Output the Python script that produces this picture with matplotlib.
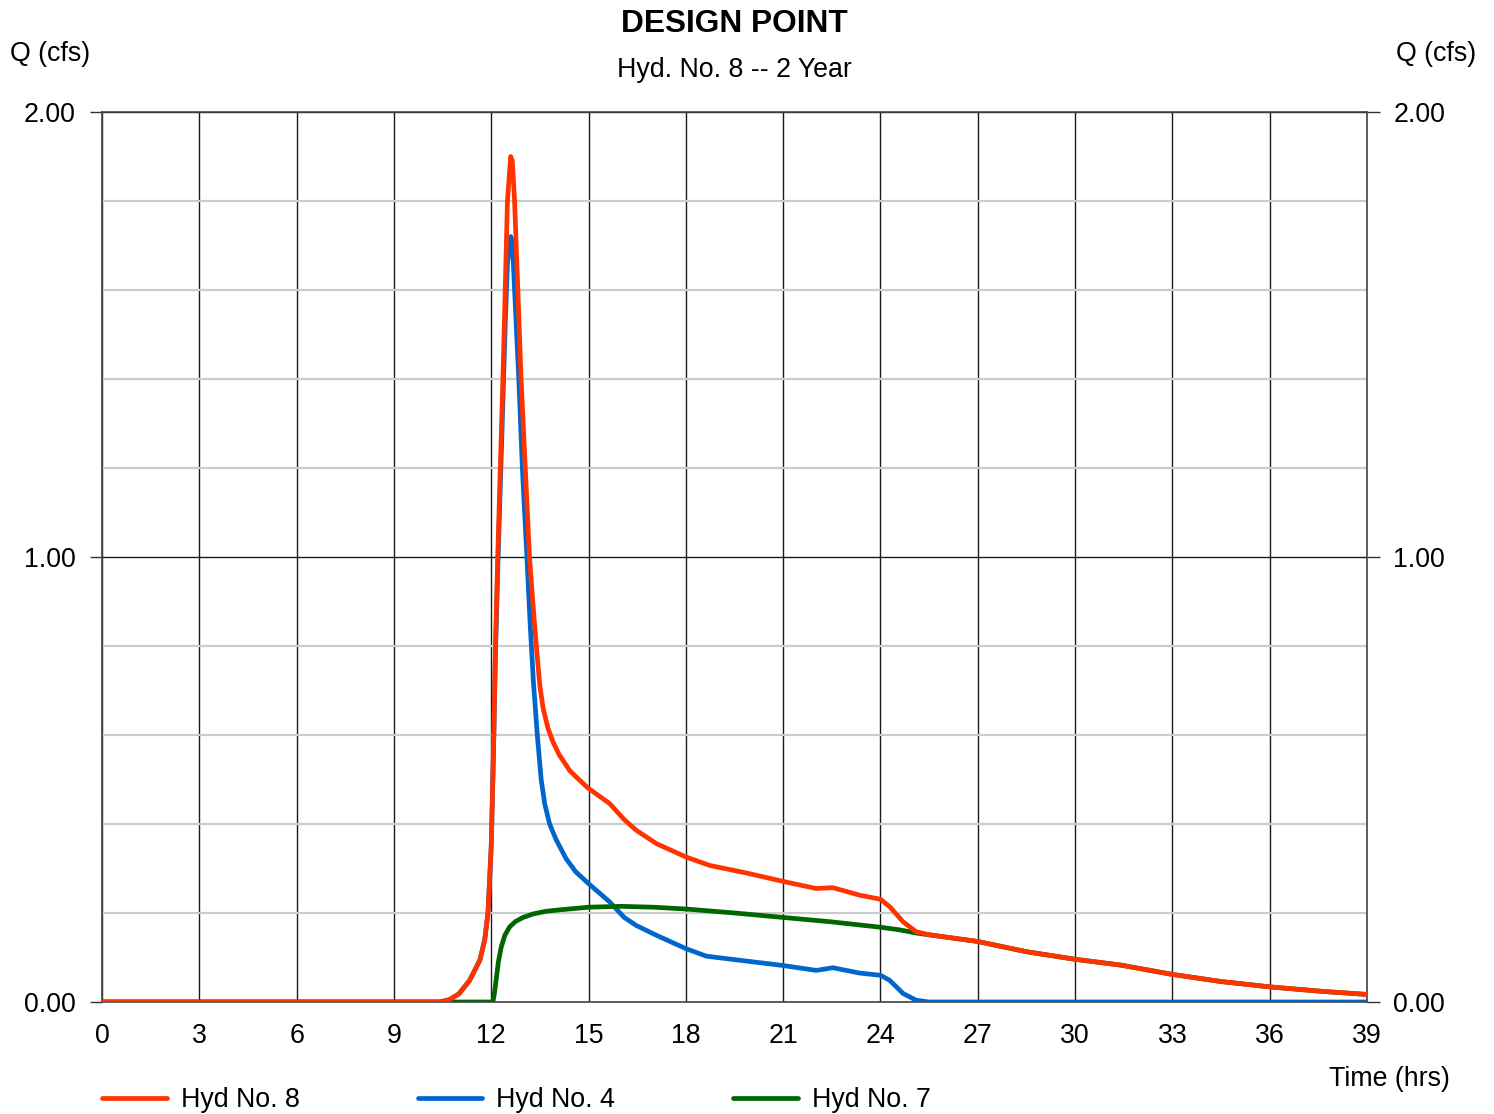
"""
Design point hydrograph: combined outflow (Hyd No. 8) with its two
contributing hydrographs (Hyd No. 4 and Hyd No. 7), 2 year storm.
"""

import matplotlib
matplotlib.use("Agg")
import matplotlib.pyplot as plt
from matplotlib.lines import Line2D

plt.rcParams["font.family"] = ["Liberation Sans", "DejaVu Sans"]

# ---------------- Hydrograph data (hrs, cfs) ----------------
t_hyd8 = [0, 10.4, 10.7, 11.0, 11.33, 11.65, 11.8, 11.9, 12.0, 12.07, 12.13, 12.2,
          12.28, 12.36, 12.43, 12.5, 12.6, 12.65, 12.72, 12.82, 12.92, 13.05, 13.18,
          13.28, 13.39, 13.5, 13.6, 13.75, 13.9, 14.1, 14.42, 14.7, 15.0, 15.65,
          16.1, 16.47, 17.09, 18.0, 18.73, 19.86, 21.0, 22.02, 22.53, 23.36, 24.0,
          24.3, 24.7, 25.1, 25.5, 27.0, 28.5, 30.0, 31.4, 33.0, 34.5, 36.0, 37.6, 39.0]
q_hyd8 = [0, 0, 0.005, 0.018, 0.048, 0.094, 0.14, 0.2, 0.35, 0.57, 0.80, 1.0,
          1.2, 1.4, 1.6, 1.8, 1.90, 1.89, 1.8, 1.6, 1.4, 1.2, 1.0,
          0.9, 0.8, 0.71, 0.66, 0.615, 0.585, 0.555, 0.52, 0.5, 0.48, 0.446,
          0.41, 0.386, 0.356, 0.326, 0.307, 0.29, 0.271, 0.255, 0.257, 0.24, 0.231,
          0.213, 0.18, 0.158, 0.151, 0.136, 0.113, 0.096, 0.083, 0.062, 0.046, 0.034, 0.024, 0.017]

t_hyd4 = [0, 10.4, 10.7, 11.0, 11.33, 11.65, 11.8, 11.9, 12.0, 12.07, 12.13, 12.2,
          12.28, 12.36, 12.43, 12.5, 12.6, 12.65, 12.72, 12.85, 12.96, 13.1, 13.2,
          13.3, 13.42, 13.54, 13.65, 13.8, 14.0, 14.3, 14.6, 15.0, 15.65, 16.1,
          16.47, 17.09, 18.0, 18.63, 19.86, 21.0, 22.02, 22.53, 23.36, 24.0, 24.28,
          24.7, 25.1, 25.5, 39.0]
q_hyd4 = [0, 0, 0.005, 0.018, 0.048, 0.094, 0.14, 0.2, 0.35, 0.56, 0.78, 0.97,
          1.16, 1.35, 1.52, 1.66, 1.72, 1.71, 1.6, 1.4, 1.2, 1.0, 0.85,
          0.72, 0.6, 0.5, 0.445, 0.4, 0.365, 0.323, 0.293, 0.266, 0.225, 0.19,
          0.172, 0.15, 0.12, 0.103, 0.092, 0.082, 0.071, 0.077, 0.065, 0.06, 0.049,
          0.019, 0.004, 0.0, 0.0]

t_hyd7 = [0, 12.05, 12.1, 12.15, 12.22, 12.31, 12.42, 12.57, 12.75, 12.98, 13.3,
          13.7, 14.1, 15.0, 16.0, 17.0, 18.0, 19.5, 21.0, 22.5, 24.0, 24.6, 25.1,
          25.5, 27.0, 28.5, 30.0, 31.4, 33.0, 34.5, 36.0, 37.6, 39.0]
q_hyd7 = [0, 0, 0.02, 0.049, 0.09, 0.124, 0.15, 0.169, 0.181, 0.19, 0.198,
          0.204, 0.207, 0.213, 0.215, 0.213, 0.209, 0.2, 0.19, 0.18, 0.168, 0.162, 0.155,
          0.151, 0.136, 0.113, 0.096, 0.083, 0.062, 0.046, 0.034, 0.024, 0.017]

x_ticks = list(range(0, 40, 3))
y_ticks = [0.0, 1.0, 2.0]
y_minor = [0.2, 0.4, 0.6, 0.8, 1.2, 1.4, 1.6, 1.8]

RED, BLUE, GREEN = "#ff3300", "#0066cc", "#006600"
LW = 3.4
FS = 19.3

# ---------------- Figure ----------------
W, H = 1494, 1114
fig = plt.figure(figsize=(W / 100, H / 100), dpi=100)
ax = fig.add_axes([102 / W, 1 - 1002 / H, (1367 - 102) / W, (1002 - 112) / H])

ax.plot(t_hyd4, q_hyd4, color=BLUE, lw=LW, zorder=3, solid_joinstyle="round")
ax.plot(t_hyd7, q_hyd7, color=GREEN, lw=LW, zorder=4, solid_joinstyle="round")
ax.plot(t_hyd8, q_hyd8, color=RED, lw=LW, zorder=5, solid_joinstyle="round")

ax.set_xlim(0, 39)
ax.set_ylim(0, 2)
ax.set_xticks(x_ticks)
ax.set_yticks(y_ticks)
ax.set_yticks(y_minor, minor=True)
ax.set_yticklabels([f"{v:.2f}" for v in y_ticks])

ax.grid(True, which="major", axis="x", color="#1a1a1a", lw=1.0, zorder=1)
ax.grid(True, which="major", axis="y", color="#1a1a1a", lw=1.0, zorder=1)
ax.grid(True, which="minor", axis="y", color="#cccccc", lw=1.6, zorder=1)

for side in ["left", "right", "top", "bottom"]:
    ax.spines[side].set_color("#444444")
    ax.spines[side].set_linewidth(1.2)

ax.tick_params(axis="y", which="major", direction="out", length=9, width=1.0,
               color="#333333", labelsize=FS, pad=10, left=True, right=True,
               labelleft=True, labelright=True)
ax.tick_params(axis="y", which="minor", length=0)
ax.tick_params(axis="x", length=0, labelsize=FS, pad=15)

# titles and axis captions
fig.text(734.5 / W, 1 - 24 / H, "DESIGN POINT", ha="center", va="center",
         fontsize=22.8, fontweight="bold")
fig.text(734.5 / W, 1 - 70 / H, "Hyd. No. 8 -- 2 Year", ha="center", va="center",
         fontsize=FS)
fig.text(10 / W, 1 - 54 / H, "Q (cfs)", ha="left", va="center", fontsize=FS)
fig.text(1476 / W, 1 - 54 / H, "Q (cfs)", ha="right", va="center", fontsize=FS)
fig.text(1450 / W, 1 - 1079 / H, "Time (hrs)", ha="right", va="center", fontsize=FS)

# legend along the bottom
handles = [Line2D([], [], color=c, lw=LW, solid_capstyle="round") for c in (RED, BLUE, GREEN)]
labels = ["Hyd No. 8", "Hyd No. 4", "Hyd No. 7"]
fig.legend(handles, labels, ncol=3, loc="center left",
           bbox_to_anchor=(102 / W, 1 - 1100 / H), frameon=False, fontsize=FS,
           handlelength=2.42, handletextpad=0.52, columnspacing=4.4,
           borderpad=0, borderaxespad=0)

fig.savefig("out.png", dpi=100)
